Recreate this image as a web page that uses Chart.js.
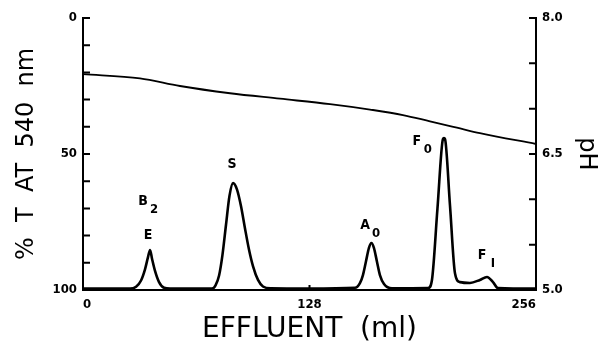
<!DOCTYPE html>
<html>
<head>
<meta charset="utf-8">
<script src="https://cdn.jsdelivr.net/npm/chart.js@4.4.1/dist/chart.umd.min.js"></script>
<style>
  body { margin: 0; background: #fff; }
  #wrap { width: 609px; height: 343px; }
</style>
</head>
<body>
<div id="wrap"><canvas id="myChart" width="609" height="343"></canvas></div>
<script>
// % T at 540 nm trace
var effluentMl = [0, 26.6, 30.0, 32.8, 35.0, 36.7, 37.9, 39.0, 40.7, 42.9, 45.8, 49.2,
    70.5, 72.9, 74.9, 76.9, 78.8, 80.8, 82.8, 84.8, 87.0, 89.3, 91.5, 93.8, 96.1, 98.9, 101.7, 106.2,
    128, 153.7, 156.5, 158.2, 159.9, 161.6, 163.0, 164.4, 166.1, 167.8, 170.1, 174.6,
    195.0, 197.2, 200.3, 203.4, 204.0, 204.6, 207.4, 210.2, 213.0, 218.7, 224.3, 228.3, 231.7, 234.5, 256];
var transmittance = [99.5, 99.5, 98.8, 96.5, 92.5, 88, 85.3, 88.5, 93, 97, 99.2, 99.5,
    99.5, 99.5, 98.3, 94.7, 87.2, 76.1, 65.3, 60.7, 63.0, 69.2, 77.2, 85.1, 91.3, 96.3, 98.7, 99.4,
    99.5, 99.2, 97.5, 94.5, 89.5, 84.5, 82.7, 84.5, 89.5, 94.5, 97.8, 99.4,
    99.3, 96.3, 70.2, 44.5, 44.1, 44.5, 69, 93.8, 97.1, 97.4, 96.3, 95.2, 97.1, 99.3, 99.5];

// pH gradient
var phEffluent = [0, 32.2, 54.8, 83.1, 111.3, 139.6, 162.2, 180.8, 196.1, 211.3, 224.3, 256];
var phValues = [7.38, 7.335, 7.25, 7.17, 7.11, 7.05, 6.99, 6.93, 6.86, 6.79, 6.73, 6.61];

// peak names (letter + subscript) and where they sit
var peakNames = ['B', 'E', 'S', 'A', 'F', 'F'];
var peakSubs = ['2', '', '', '0', '0', 'I'];
var peakX = [33.9, 36.7, 84.2, 159.4, 188.7, 225.5];
var peakY = [67.3, 79.8, 53.7, 76.1, 45.2, 87.1];

var xTickLabels = [0, 128, 256];
var leftTickLabels = [0, 50, 100];
var rightTickLabels = [8.0, 6.5, 5.0];

const tickFont = { family: '"DejaVu Sans Condensed", "DejaVu Sans", sans-serif', size: 13, weight: 'bold' };
const titleFamily = '"DejaVu Sans", sans-serif';

// ticks on this plot point into the frame, so draw them here
const inwardTicks = {
    id: 'inwardTicks',
    afterDraw(chart) {
        const ctx = chart.ctx, a = chart.chartArea;
        const yL = chart.scales.y, yR = chart.scales.yR, xs = chart.scales.x;
        ctx.save();
        ctx.strokeStyle = '#000';
        ctx.lineWidth = 2;
        ctx.beginPath();
        yL.ticks.forEach(t => {
            const p = yL.getPixelForValue(t.value);
            ctx.moveTo(a.left, p); ctx.lineTo(a.left + 7, p);
        });
        yR.ticks.forEach(t => {
            const p = yR.getPixelForValue(t.value);
            ctx.moveTo(a.right - 7, p); ctx.lineTo(a.right, p);
        });
        const mid = xs.getPixelForValue(128);
        ctx.moveTo(mid, a.bottom); ctx.lineTo(mid, a.bottom - 5);
        ctx.stroke();

        // peak labels
        ctx.fillStyle = '#000';
        ctx.textAlign = 'center';
        ctx.textBaseline = 'middle';
        for (var i = 0; i < peakNames.length; i++) {
            const px = xs.getPixelForValue(peakX[i]);
            const py = yL.getPixelForValue(peakY[i]);
            ctx.font = 'bold 14px "DejaVu Sans Condensed", "DejaVu Sans", sans-serif';
            ctx.fillText(peakNames[i], px, py);
            if (peakSubs[i]) {
                ctx.font = 'bold 13px "DejaVu Sans Condensed", "DejaVu Sans", sans-serif';
                ctx.fillText(peakSubs[i], px + 11, py + 9);
            }
        }
        ctx.restore();
    }
};

const data = {
    datasets: [{
        label: '% T',
        data: effluentMl.map((v, i) => ({ x: v, y: transmittance[i] })),
        yAxisID: 'y',
        borderColor: '#000',
        borderWidth: 2.6,
        pointRadius: 0,
        cubicInterpolationMode: 'monotone',
        fill: false
    }, {
        label: 'pH',
        data: phEffluent.map((v, i) => ({ x: v, y: phValues[i] })),
        yAxisID: 'yR',
        borderColor: '#000',
        borderWidth: 1.8,
        pointRadius: 0,
        cubicInterpolationMode: 'monotone',
        fill: false
    }]
};

const config = {
    type: 'line',
    data: data,
    options: {
        responsive: false,
        animation: false,
        layout: { padding: { top: 18, left: 0, right: 0, bottom: 0 } },
        plugins: { legend: { display: false }, tooltip: { enabled: false } },
        scales: {
            x: {
                type: 'linear',
                min: 0, max: 256,
                grid: { display: false, drawTicks: false },
                border: { display: true, color: '#000', width: 2 },
                ticks: {
                    stepSize: 128, autoSkip: false, maxRotation: 0, align: 'inner',
                    padding: 7, color: '#000', font: tickFont,
                    callback: v => xTickLabels.includes(v) ? String(v) : ''
                },
                title: {
                    display: true, text: 'EFFLUENT  (ml)', color: '#000',
                    font: { family: titleFamily, size: 28 }, padding: { top: 0, bottom: -4 }
                },
                afterFit: s => { s.height = 53; }
            },
            y: {
                position: 'left',
                reverse: true,
                min: 0, max: 100,
                grid: { drawOnChartArea: false, drawTicks: false },
                border: { display: true, color: '#000', width: 2 },
                ticks: {
                    stepSize: 10, autoSkip: false, padding: 6, color: '#000', font: tickFont,
                    callback: v => leftTickLabels.includes(v) ? String(v) : ''
                },
                title: {
                    display: true, text: '%  T  AT  540  nm', color: '#000',
                    font: { family: titleFamily, size: 24 }, padding: { top: 12 }
                },
                afterFit: s => { s.width = 83; }
            },
            yR: {
                position: 'right',
                min: 5, max: 8,
                grid: { drawOnChartArea: false, drawTicks: false },
                border: { display: true, color: '#000', width: 2 },
                ticks: {
                    stepSize: 0.5, autoSkip: false, padding: 6, color: '#000', font: tickFont,
                    callback: v => rightTickLabels.includes(v) ? v.toFixed(1) : ''
                },
                title: {
                    display: true, text: 'pH', color: '#000',
                    font: { family: titleFamily, size: 24 }, padding: { top: 8 }
                },
                afterFit: s => { s.width = 73; }
            }
        }
    },
    plugins: [inwardTicks]
};

const myChart = new Chart(document.getElementById('myChart'), config);
</script>
</body>
</html>
